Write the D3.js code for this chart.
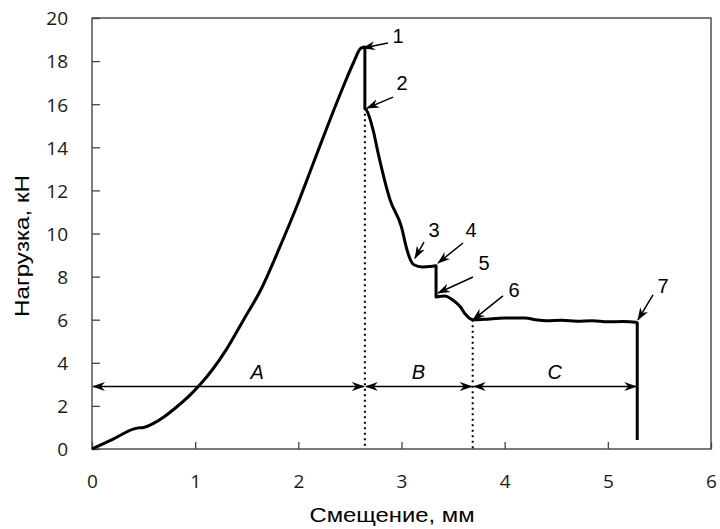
<!DOCTYPE html>
<html>
<head>
<meta charset="utf-8">
<script src="https://cdn.jsdelivr.net/npm/d3@7"></script>
<style>
  body { margin: 0; background: #fff; }
  svg { display: block; }
  .tick text { font-family: "Open Sans", sans-serif; font-size: 19px; fill: #1a1a1a; }
  .tick line { stroke: #444; stroke-width: 1.3px; }
</style>
</head>
<body>
<svg id="chart" width="720" height="529"></svg>
<script>
// load-displacement curve (mm, kN)
var dispX = [0, 0.2, 0.4, 0.45, 0.5, 0.6, 0.7, 0.82, 0.95, 1.05, 1.17, 1.3, 1.47, 1.644, 1.822, 1.983, 2.145,
    2.306, 2.435, 2.532, 2.607, 2.645, 2.645, 2.66, 2.725, 2.774, 2.89, 3.0, 3.05, 3.08, 3.12, 3.2, 3.3,
    3.335, 3.335, 3.42, 3.5, 3.57, 3.62, 3.69, 3.8, 4.0, 4.2, 4.3, 4.4, 4.55, 4.7, 4.85, 5.0, 5.15, 5.27,
    5.285, 5.285];
var loadY = [0, 0.45, 0.92, 0.98, 1.0, 1.2, 1.5, 1.95, 2.5, 3.0, 3.7, 4.6, 6.0, 7.46, 9.39, 11.24, 13.26,
    15.27, 16.81, 17.9, 18.6, 18.65, 15.81, 15.73, 14.8, 13.72, 11.55, 10.3, 9.3, 8.85, 8.55, 8.45, 8.48,
    8.5, 7.05, 7.1, 6.9, 6.6, 6.25, 6.0, 6.02, 6.08, 6.08, 6.0, 5.95, 5.97, 5.93, 5.95, 5.9, 5.92, 5.88,
    5.85, 0.42];

var xTicks = [0, 1, 2, 3, 4, 5, 6];
var yTicks = [0, 2, 4, 6, 8, 10, 12, 14, 16, 18, 20];

// stage boundaries and labels
var stageBounds = [0, 2.645, 3.69, 5.285];
var stageNames = ['A', 'B', 'C'];
var stageLabelX = [1.6, 3.165, 4.485];
var stageArrowY = 2.9;
var dividerTop = [15.81, 6.0]; // dotted lines at stageBounds[1], [2]

// numbered points
var pointLabels = ['1', '2', '3', '4', '5', '6', '7'];
var pointX = [2.627, 2.666, 3.131, 3.354, 3.354, 3.693, 5.292];
var pointY = [18.61, 15.82, 8.86, 8.63, 7.24, 5.99, 5.99];

var svg = d3.select('#chart');
var m = { left: 92, right: 711, top: 18, bottom: 449 };

var x = d3.scaleLinear().domain([0, 6]).range([m.left, m.right]);
var y = d3.scaleLinear().domain([0, 20]).range([m.bottom, m.top]);

var defs = svg.append('defs');
defs.append('marker').attr('id', 'head')
    .attr('viewBox', '0 -5 13 10').attr('refX', 12).attr('refY', 0)
    .attr('markerWidth', 13).attr('markerHeight', 10).attr('markerUnits', 'userSpaceOnUse')
    .attr('orient', 'auto-start-reverse')
    .append('path').attr('d', 'M0,-4.5L13,0L0,4.5L4,0Z').attr('fill', '#000');

// axes (ticks pointing inward)
var xAxis = svg.append('g').attr('transform', 'translate(0,' + m.bottom + ')')
    .call(d3.axisBottom(x).tickValues(xTicks).tickSize(-7).tickPadding(26).tickFormat(d3.format('d')));
var yAxis = svg.append('g').attr('transform', 'translate(' + m.left + ',0)')
    .call(d3.axisLeft(y).tickValues(yTicks).tickSize(-8).tickPadding(24).tickFormat(d3.format('d')));
xAxis.select('.domain').remove();
yAxis.select('.domain').remove();
yAxis.selectAll('.tick text').attr('dy', '0.36em');

svg.append('rect')
    .attr('x', m.left).attr('y', m.top).attr('width', m.right - m.left).attr('height', m.bottom - m.top)
    .attr('fill', 'none').attr('stroke', '#444').attr('stroke-width', 1.4);

// dotted dividers
svg.selectAll('line.divider').data(dividerTop).enter().append('line')
    .attr('class', 'divider')
    .attr('x1', function (d, i) { return x(stageBounds[i + 1]); })
    .attr('x2', function (d, i) { return x(stageBounds[i + 1]); })
    .attr('y1', function (d) { return y(d); })
    .attr('y2', y(0))
    .attr('stroke', '#000').attr('stroke-width', 2).attr('stroke-dasharray', '2,3.5');

// stage double arrows
var stages = stageNames.map(function (n, i) {
    return { name: n, x0: stageBounds[i], x1: stageBounds[i + 1], lx: stageLabelX[i] };
});
svg.selectAll('line.stage').data(stages).enter().append('line')
    .attr('class', 'stage')
    .attr('x1', function (d) { return x(d.x0) + 1; })
    .attr('x2', function (d) { return x(d.x1) - 1; })
    .attr('y1', y(stageArrowY)).attr('y2', y(stageArrowY))
    .attr('stroke', '#000').attr('stroke-width', 1.5)
    .attr('marker-start', 'url(#head)').attr('marker-end', 'url(#head)');
svg.selectAll('text.stage').data(stages).enter().append('text')
    .attr('class', 'stage')
    .attr('x', function (d) { return x(d.lx); })
    .attr('y', y(stageArrowY) - 8)
    .attr('text-anchor', 'middle')
    .attr('font-family', 'Liberation Sans, Arial, sans-serif').attr('font-style', 'italic')
    .attr('font-size', 20)
    .text(function (d) { return d.name; });

// curve: smooth pieces between the sudden load drops, drops drawn straight
var pieces = [];
dispX.forEach(function (d, i) {
    if (i === 0 || d === dispX[i - 1]) pieces.push([]);
    pieces[pieces.length - 1].push([d, loadY[i]]);
});
var smooth = d3.line().curve(d3.curveMonotoneX)
    .x(function (d) { return x(d[0]); }).y(function (d) { return y(d[1]); });
var full = pieces.map(function (p, i) {
    var s = smooth(p).replace(/Z$/, '');
    return i ? 'L' + s.slice(1) : s;
}).join('');
svg.append('path')
    .attr('d', full)
    .attr('fill', 'none').attr('stroke', '#000').attr('stroke-width', 3)
    .attr('stroke-linejoin', 'round');

// numbered pointers: tail and text offsets in px from the target
var tailOff = [[25, -5], [26, -11], [9, -16], [25, -20], [35, -16], [30, -24], [15, -25]];
var textOff = [[35, -5], [35, -18], [19, -21], [33, -26], [46, -23], [41, -23], [25, -27]];
var pointers = pointLabels.map(function (l, i) {
    return { label: l, px: x(pointX[i]), py: y(pointY[i]), t: tailOff[i], s: textOff[i] };
});
svg.selectAll('line.ptr').data(pointers).enter().append('line')
    .attr('class', 'ptr')
    .attr('x1', function (d) { return d.px + d.t[0]; })
    .attr('y1', function (d) { return d.py + d.t[1]; })
    .attr('x2', function (d) { return d.px; })
    .attr('y2', function (d) { return d.py; })
    .attr('stroke', '#000').attr('stroke-width', 1.5)
    .attr('marker-end', 'url(#head)');
svg.selectAll('text.ptr').data(pointers).enter().append('text')
    .attr('class', 'ptr')
    .attr('x', function (d) { return d.px + d.s[0]; })
    .attr('y', function (d) { return d.py + d.s[1]; })
    .attr('text-anchor', 'middle')
    .attr('font-family', 'Liberation Sans, Arial, sans-serif').attr('font-size', 20)
    .text(function (d) { return d.label; });

// axis titles
svg.append('text')
    .attr('x', 392).attr('y', 522)
    .attr('text-anchor', 'middle')
    .attr('font-family', 'Liberation Sans, Arial, sans-serif').attr('font-size', 20)
    .attr('textLength', 165).attr('lengthAdjust', 'spacingAndGlyphs')
    .text('Смещение, мм');
svg.append('text')
    .attr('transform', 'translate(29,246) rotate(-90)')
    .attr('text-anchor', 'middle')
    .attr('font-family', 'Liberation Sans, Arial, sans-serif').attr('font-size', 20)
    .attr('textLength', 142).attr('lengthAdjust', 'spacingAndGlyphs')
    .text('Нагрузка, кН');
</script>
</body>
</html>
